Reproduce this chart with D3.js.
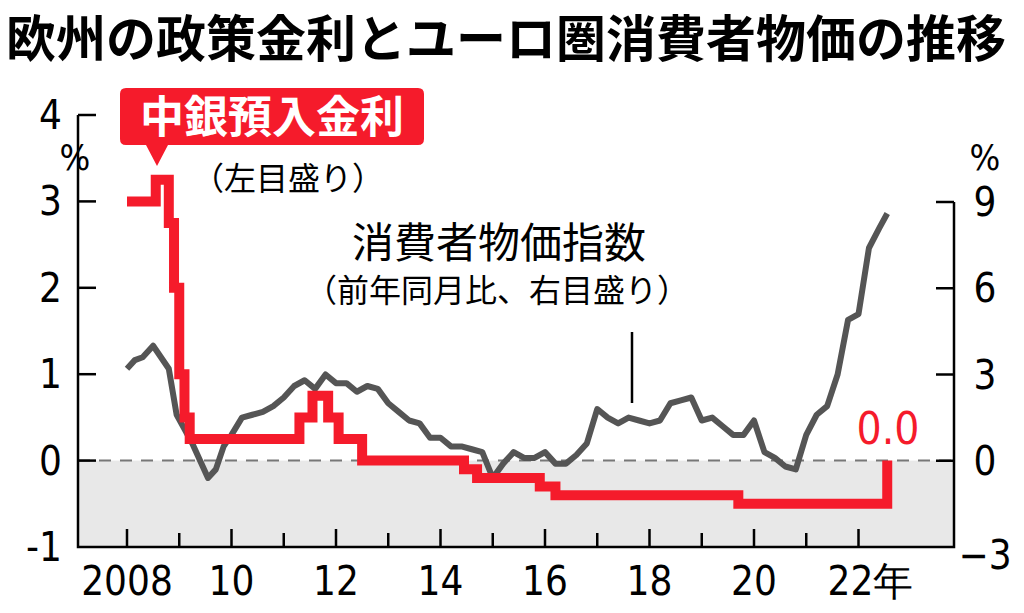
<!DOCTYPE html>
<html><head><meta charset="utf-8">
<script src="https://cdn.jsdelivr.net/npm/d3@7"></script>
<style>body{margin:0;background:#fff}</style>
</head><body>
<script>
// deposit rate steps: [year, rate]
const rateT = [2008.0, 2008.55, 2008.8, 2008.9, 2009.0, 2009.1, 2009.2, 2009.35, 2011.3, 2011.55, 2011.85, 2012.05, 2012.5, 2014.45, 2014.7, 2015.9, 2016.2, 2019.7, 2022.55];
const rateV = [3.0, 3.25, 2.75, 2.0, 1.0, 0.5, 0.25, 0.25, 0.5, 0.75, 0.5, 0.25, 0.0, -0.1, -0.2, -0.3, -0.4, -0.5, 0.0];
// CPI yoy %
const cpiT = [2008.0, 2008.15, 2008.3, 2008.5, 2008.65, 2008.8, 2008.95, 2009.1, 2009.25, 2009.4, 2009.55, 2009.7, 2009.85, 2010.0, 2010.2, 2010.4, 2010.6, 2010.8, 2011.0, 2011.2, 2011.4, 2011.6, 2011.8, 2012.0, 2012.2, 2012.4, 2012.6, 2012.8, 2013.0, 2013.2, 2013.4, 2013.6, 2013.8, 2014.0, 2014.2, 2014.4, 2014.6, 2014.8, 2015.0, 2015.2, 2015.4, 2015.6, 2015.8, 2016.0, 2016.2, 2016.4, 2016.6, 2016.8, 2017.0, 2017.2, 2017.4, 2017.6, 2017.8, 2018.0, 2018.2, 2018.4, 2018.6, 2018.8, 2019.0, 2019.2, 2019.4, 2019.6, 2019.8, 2020.0, 2020.2, 2020.4, 2020.6, 2020.8, 2021.0, 2021.2, 2021.4, 2021.6, 2021.8, 2022.0, 2022.2, 2022.4, 2022.55];
const cpiV = [3.2, 3.5, 3.6, 4.0, 3.6, 3.2, 1.6, 1.1, 0.6, 0.0, -0.6, -0.3, 0.5, 0.9, 1.5, 1.6, 1.7, 1.9, 2.2, 2.6, 2.8, 2.5, 3.0, 2.7, 2.7, 2.4, 2.6, 2.5, 2.0, 1.7, 1.4, 1.3, 0.8, 0.8, 0.5, 0.5, 0.4, 0.3, -0.6, -0.1, 0.3, 0.1, 0.1, 0.3, -0.1, -0.1, 0.2, 0.6, 1.8, 1.5, 1.3, 1.5, 1.4, 1.3, 1.4, 2.0, 2.1, 2.2, 1.4, 1.5, 1.2, 0.9, 0.9, 1.4, 0.3, 0.1, -0.2, -0.3, 0.9, 1.6, 1.9, 3.0, 4.9, 5.1, 7.4, 8.1, 8.6];
const leftTicks = [-1, 0, 1, 2, 3, 4];
const rightTicks = [-3, 0, 3, 6, 9];
const yearTicks = [2008, 2010, 2012, 2014, 2016, 2018, 2020, 2022];
const yearLabels = ["2008", "10", "12", "14", "16", "18", "20", "22年"];
const minorTicks = [2009, 2011, 2013, 2015, 2017, 2019, 2021];

const W = 1024, H = 613;
const svg = d3.select("body").append("svg").attr("width", W).attr("height", H);
const num = "'Liberation Sans Narrow','DejaVu Sans Condensed',sans-serif";
const jp = "'Noto Sans CJK JP',sans-serif";

const x = d3.scaleLinear().domain([2008, 2020]).range([127, 754]);
const yL = d3.scaleLinear().domain([-1, 4]).range([547, 115]);
const yR = d3.scaleLinear().domain([-3, 9]).range([547, 202]);
const X0 = 78, X1 = 954;

svg.append("text").attr("x", 6).attr("y", 57).attr("font-family", jp).attr("font-weight", 700)
  .attr("font-size", 50).attr("letter-spacing", 0).text("欧州の政策金利とユーロ圏消費者物価の推移");

svg.append("rect").attr("x", X0).attr("y", yL(0)).attr("width", X1 - X0).attr("height", 547 - yL(0)).attr("fill", "#e8e8e8");
svg.append("line").attr("x1", X0).attr("x2", X1).attr("y1", yL(0)).attr("y2", yL(0))
  .attr("stroke", "#777").attr("stroke-width", 2).attr("stroke-dasharray", "12,9");

// axes frame
svg.append("path").attr("d", `M${X0},${yL(4)}V547H${X1}V${yR(9)}`).attr("fill", "none").attr("stroke", "#000").attr("stroke-width", 2.5);
leftTicks.forEach(v => {
  if (v > -1) svg.append("line").attr("x1", X0).attr("x2", X0 + 18).attr("y1", yL(v)).attr("y2", yL(v)).attr("stroke", "#000").attr("stroke-width", 2.5);
  svg.append("text").attr("x", 62).attr("y", yL(v) + 14).attr("text-anchor", "end").attr("font-family", num).attr("font-size", 40).text(v < 0 ? "-" + (-v) : v);
});
rightTicks.forEach(v => {
  if (v > -3) svg.append("line").attr("x1", X1).attr("x2", X1 - 18).attr("y1", yR(v)).attr("y2", yR(v)).attr("stroke", "#000").attr("stroke-width", 2.5);
  svg.append("text").attr("x", 985).attr("y", yR(v) + 14 + (v < 0 ? 8 : 0)).attr("text-anchor", "middle").attr("font-family", num).attr("font-size", 40).text(v < 0 ? "−" + (-v) : v);
});
yearTicks.forEach((t, i) => {
  svg.append("line").attr("x1", x(t)).attr("x2", x(t)).attr("y1", 547).attr("y2", 529).attr("stroke", "#000").attr("stroke-width", 2.5);
  svg.append("text").attr("x", x(t) + (i === 7 ? 12 : 0)).attr("y", 595).attr("text-anchor", "middle").attr("font-family", num).attr("font-size", 40).text(yearLabels[i]);
});
minorTicks.forEach(t => svg.append("line").attr("x1", x(t)).attr("x2", x(t)).attr("y1", 547).attr("y2", 533).attr("stroke", "#000").attr("stroke-width", 2.5));
svg.append("text").attr("x", 75).attr("y", 170).attr("text-anchor", "middle").attr("font-family", num).attr("font-size", 36).text("%");
svg.append("text").attr("x", 985).attr("y", 170).attr("text-anchor", "middle").attr("font-family", num).attr("font-size", 36).text("%");

// lines
const cpi = cpiT.map((t, i) => [t, cpiV[i]]);
svg.append("path").datum(cpi).attr("fill", "none").attr("stroke", "#555").attr("stroke-width", 6).attr("stroke-linejoin", "round")
  .attr("d", d3.line().x(d => x(d[0])).y(d => yR(d[1])));
const rate = rateT.map((t, i) => [t, rateV[i]]);
svg.append("path").datum(rate).attr("fill", "none").attr("stroke", "#f51b2b").attr("stroke-width", 10)
  .attr("d", d3.line().curve(d3.curveStepAfter).x(d => x(d[0])).y(d => yL(d[1])));

// labels
svg.append("path").attr("d", "M126,88H418Q424,88 424,94V139Q424,145 418,145H168L157,166L146,145H126Q120,145 120,139V94Q120,88 126,88Z").attr("fill", "#f51b2b");
svg.append("text").attr("x", 272).attr("y", 133).attr("text-anchor", "middle").attr("fill", "#fff").attr("font-family", jp).attr("font-weight", 700).attr("font-size", 44).text("中銀預入金利");
svg.append("text").attr("x", 192).attr("y", 190).attr("font-family", jp).attr("font-size", 32).text("（左目盛り）");
svg.append("text").attr("x", 352).attr("y", 258).attr("font-family", jp).attr("font-size", 42).text("消費者物価指数");
svg.append("text").attr("x", 305).attr("y", 302).attr("font-family", jp).attr("font-size", 32).text("（前年同月比、右目盛り）");
svg.append("line").attr("x1", 632).attr("x2", 632).attr("y1", 332).attr("y2", 403).attr("stroke", "#000").attr("stroke-width", 2.5);
svg.append("text").attr("x", 888).attr("y", 444).attr("text-anchor", "middle").attr("fill", "#f51b2b").attr("font-family", num).attr("font-size", 44).text("0.0");
</script>
</body></html>
